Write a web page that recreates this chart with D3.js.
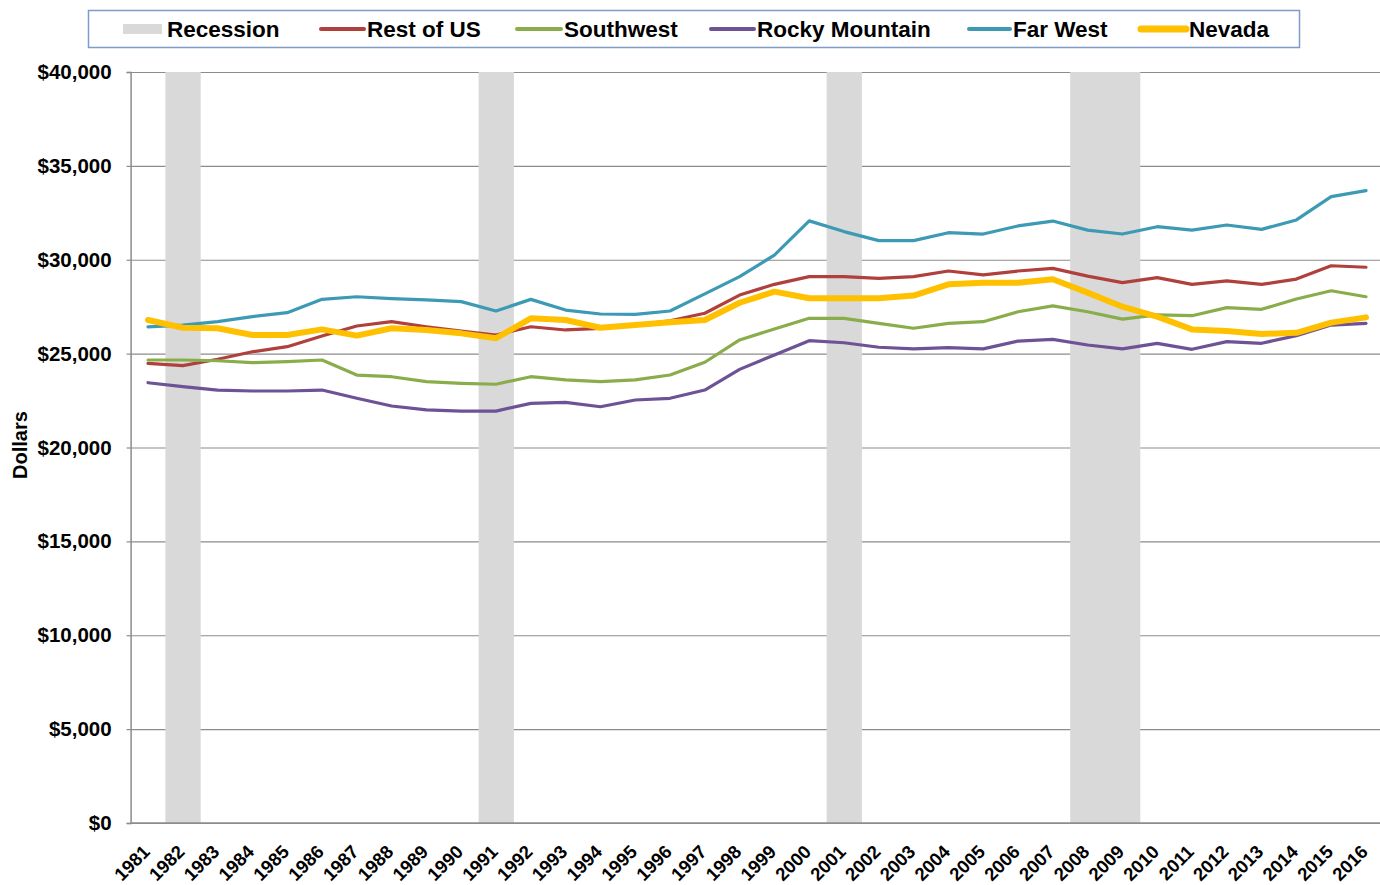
<!DOCTYPE html>
<html>
<head>
<meta charset="utf-8">
<script src="https://cdn.jsdelivr.net/npm/d3@7"></script>
<style>
  html, body { margin: 0; padding: 0; background: #fff; }
  svg { display: block; font-family: "Liberation Sans", Arial, sans-serif; }
</style>
</head>
<body>
<svg id="chart" width="1380" height="885"></svg>
<script>
const years = ["1981","1982","1983","1984","1985","1986","1987","1988","1989","1990","1991","1992","1993","1994","1995","1996","1997","1998","1999","2000","2001","2002","2003","2004","2005","2006","2007","2008","2009","2010","2011","2012","2013","2014","2015","2016"];
const recessionYears = ["1982","1991","2001","2008","2009"];
const yTicks = [0,5000,10000,15000,20000,25000,30000,35000,40000];

const restOfUS = [24480,24360,24700,25100,25370,25940,26470,26700,26430,26200,25990,26430,26260,26350,26520,26750,27150,28120,28690,29100,29100,29010,29100,29400,29190,29400,29540,29130,28780,29050,28690,28870,28690,28970,29680,29600];
const southwest = [24660,24660,24620,24520,24570,24660,23860,23770,23510,23420,23370,23770,23600,23510,23600,23860,24540,25730,26310,26880,26880,26610,26350,26610,26700,27230,27540,27230,26840,27060,27020,27450,27360,27910,28350,28030];
const rockyMountain = [23450,23240,23060,23010,23010,23060,22620,22210,22000,21940,21940,22350,22400,22170,22530,22620,23060,24160,24930,25690,25580,25340,25250,25320,25250,25670,25760,25460,25250,25550,25230,25640,25550,25960,26520,26610];
const farWest = [26430,26520,26700,26970,27180,27890,28030,27930,27860,27770,27270,27890,27320,27110,27090,27270,28180,29100,30250,32070,31500,31020,31020,31440,31370,31800,32060,31580,31370,31760,31580,31850,31620,32120,33360,33680];
const nevada = [26790,26380,26350,25990,25990,26290,25960,26350,26260,26080,25820,26880,26790,26380,26520,26670,26790,27710,28300,27950,27950,27950,28090,28690,28780,28780,28960,28250,27500,26970,26290,26200,26050,26110,26650,26930];

const seriesNames = ["Rest of US","Southwest","Rocky Mountain","Far West","Nevada"];
const seriesValues = [restOfUS, southwest, rockyMountain, farWest, nevada];
const seriesColors = ["#B0403D","#8AAD4B","#6E5296","#3D9AB4","#FFC000"];
const seriesWidths = [3.2,3.2,3.2,3.2,6];

(function () {
const svg = d3.select("#chart");
const mLeft = 130.6, mRight = 1383.4, mTop = 72, mBottom = 823;

const x = d3.scaleBand().domain(years).range([mLeft, mRight]).padding(0);
const y = d3.scaleLinear().domain([0, 40000]).range([mBottom, mTop]);
const cx = d => x(d) + x.bandwidth() / 2;

// gridlines
const gy = svg.append("g")
  .attr("transform", `translate(${mLeft},0)`)
  .call(d3.axisLeft(y).tickValues(yTicks).tickSize(-(1380 - mLeft)).tickFormat(""));
gy.select(".domain").remove();
gy.selectAll(".tick line").attr("stroke", "#8c8c8c").attr("stroke-width", 1.2);

// recession bands
svg.append("g").selectAll("rect")
  .data(recessionYears)
  .join("rect")
  .attr("x", d => x(d))
  .attr("y", mTop)
  .attr("width", x.bandwidth() + 0.5)
  .attr("height", mBottom - mTop)
  .attr("fill", "#D9D9D9");

// y axis
const ya = svg.append("g")
  .attr("transform", `translate(${mLeft},0)`)
  .call(d3.axisLeft(y).tickValues(yTicks).tickSize(4).tickPadding(15)
    .tickFormat(d => "$" + d3.format(",")(d)));
ya.select(".domain").attr("stroke", "#8c8c8c").attr("stroke-width", 1.5);
ya.selectAll(".tick line").attr("stroke", "#8c8c8c").attr("stroke-width", 1.2);
ya.selectAll(".tick text")
  .attr("font-size", 20.5).attr("font-weight", "bold").attr("fill", "#000")
  .attr("font-family", "'Liberation Sans', Arial, sans-serif");

// x axis
const xa = svg.append("g")
  .attr("transform", `translate(0,${mBottom})`)
  .call(d3.axisBottom(x).tickSize(0).tickPadding(0));
xa.select(".domain").attr("stroke", "#8c8c8c").attr("stroke-width", 1.5)
  .attr("d", `M${mLeft},0H1380`);
xa.selectAll(".tick text")
  .attr("font-size", 18.5).attr("font-weight", "bold").attr("fill", "#000")
  .attr("font-family", "'Liberation Sans', Arial, sans-serif")
  .attr("text-anchor", "end")
  .attr("dy", 0)
  .attr("y", 0)
  .attr("transform", "translate(3,30) rotate(-45)");

// y title
svg.append("text")
  .attr("transform", `translate(27,445) rotate(-90)`)
  .attr("text-anchor", "middle")
  .attr("font-size", 20).attr("font-weight", "bold")
  .text("Dollars");

// lines
const line = d3.line().x((d, i) => cx(years[i])).y(d => y(d));
svg.append("g").selectAll("path")
  .data(seriesValues)
  .join("path")
  .attr("d", d => line(d))
  .attr("fill", "none")
  .attr("stroke", (d, i) => seriesColors[i])
  .attr("stroke-width", (d, i) => seriesWidths[i])
  .attr("stroke-linejoin", "round")
  .attr("stroke-linecap", "round");

// legend
const lg = svg.append("g");
lg.append("rect").attr("x", 88.5).attr("y", 10.5).attr("width", 1211).attr("height", 37)
  .attr("fill", "#fff").attr("stroke", "#7E9BCB").attr("stroke-width", 1.5);
const legendItems = [{name: "Recession", color: "#D9D9D9", type: "rect", w: 0}]
  .concat(seriesNames.map((n, i) => ({name: n, color: seriesColors[i], type: "line", w: i === 4 ? 7 : 4})));
const swatchX = [123, 321, 517, 711, 969, 1141];
const textX = [167, 367, 564, 757, 1013, 1189];
legendItems.forEach((it, k) => {
  const lx = swatchX[k];
  if (it.type === "rect") {
    lg.append("rect").attr("x", lx).attr("y", 24).attr("width", 39).attr("height", 10).attr("fill", it.color);
  } else {
    lg.append("line").attr("x1", lx).attr("x2", textX[k] - 3).attr("y1", 29).attr("y2", 29)
      .attr("stroke", it.color).attr("stroke-width", it.w).attr("stroke-linecap", "round");
  }
  lg.append("text").attr("x", textX[k]).attr("y", 36.5)
    .attr("font-size", 22.5).attr("font-weight", "bold").text(it.name);
});
})();
</script>
</body>
</html>
